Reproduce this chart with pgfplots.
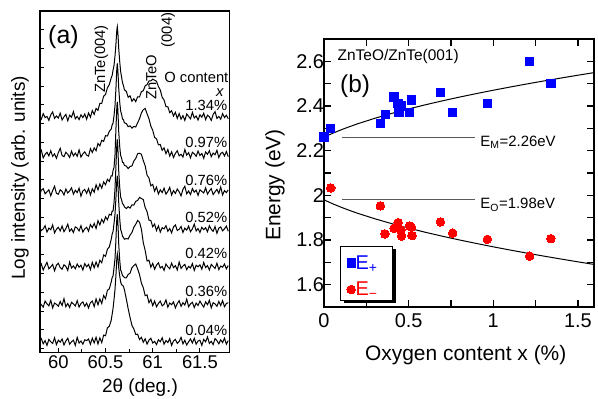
\documentclass[border=0pt]{standalone}
\usepackage{fontspec}
\setmainfont{Liberation Sans}
\usepackage{pgfplots}
\usepackage{pgfplotstable}
\pgfplotsset{compat=1.18}

% XRD traces: height (px units) above each trace's own baseline
\pgfplotstableread{
x c1 c2 c3 c4 c5 c6 c7
59.80 1.2 0.8 -3.6 2.4 -1.2 2.0 0.4
59.82 -2.4 4.0 1.6 -1.2 2.8 -0.4 3.2
59.84 3.2 -3.6 3.2 0.4 -3.2 -2.8 -2.0
59.86 -0.8 0.0 -2.0 3.6 0.8 3.2 1.2
59.88 0.4 2.0 0.0 -2.8 4.4 0.4 -3.6
59.90 -3.6 -1.6 2.0 1.2 -2.0 -1.6 2.4
59.92 2.0 3.6 -4.0 -0.4 0.0 4.0 0.0
59.94 4.8 -2.0 1.2 4.4 2.4 -3.6 -1.6
59.96 -1.6 0.4 5.6 -3.6 -4.0 1.2 4.0
59.98 0.8 -4.0 -1.6 0.0 1.6 0.0 -2.8
60.00 -1.2 1.6 -2.4 2.0 3.6 -2.0 1.6
60.02 3.6 6.0 2.0 -1.6 -0.8 2.8 -0.4
60.04 -3.2 -1.2 0.4 3.2 -2.4 -1.2 2.8
60.06 0.0 -2.4 -3.2 -2.4 2.0 5.6 -3.2
60.08 2.4 2.0 2.8 0.8 0.4 -2.4 0.8
60.10 -4.0 0.0 -1.2 5.2 -3.6 0.8 3.6
60.12 1.6 -3.2 0.8 -2.0 4.8 -3.2 -2.4
60.14 -0.4 3.2 4.0 0.4 -1.2 2.0 0.0
60.16 5.2 -1.6 -2.4 -3.2 0.8 0.4 1.6
60.18 -2.0 1.2 1.6 2.4 -2.0 -1.6 -3.6
60.20 0.4 -2.0 -0.8 1.2 2.8 3.6 4.4
60.22 -2.8 4.4 3.6 -1.6 -0.4 -2.8 -1.2
60.24 2.0 -2.8 -4.4 3.6 1.6 0.8 0.8
60.26 -0.8 0.4 0.8 -2.8 -3.2 2.4 -2.4
60.28 2.8 2.4 2.4 0.4 3.2 -2.0 2.0
60.30 -2.4 -0.8 -1.6 2.0 0.0 1.2 1.2
60.32 3.8 -1.8 3.2 -1.9 2.4 -3.6 2.8
60.34 -0.4 5.6 -3.1 4.7 -2.8 1.6 -2.4
60.36 6.2 1.8 3.0 1.7 4.5 3.2 3.6
60.38 2.4 6.4 -0.4 5.8 -1.0 -2.3 -1.2
60.40 8.4 3.6 7.0 0.8 4.8 5.4 4.5
60.42 6.5 10.8 2.0 8.6 -0.2 -0.5 -2.2
60.44 13.5 8.4 7.8 4.4 6.5 5.4 3.9
60.46 13.4 14.0 3.6 9.9 4.1 0.8 -0.8
60.48 20.6 12.9 9.9 6.6 11.8 8.8 6.7
60.50 22.3 18.6 7.0 12.4 10.5 5.6 6.0
60.52 29.0 18.3 12.5 9.5 17.6 14.0 14.0
60.54 32.2 23.0 10.4 15.0 19.8 15.4 15.5
60.56 38.8 25.2 16.0 14.2 27.3 22.2 21.4
60.57 41.3 29.4 15.8 18.1 32.6 26.7 27.5
60.58 46.9 31.3 21.4 18.4 35.4 28.4 33.6
60.59 51.4 38.6 24.5 26.6 43.4 36.5 42.3
60.60 60.5 48.0 36.0 40.0 52.0 45.0 52.0
60.61 72 65 62 62 68 64 66
60.615 80 76 74 74 78 76 75
60.62 87 86 85 85 87 86 84
60.625 90 91 90 90 91 90 88
60.63 85 85 83 83 85 84 85
60.635 77 76 72 71 75 73 80
60.64 68 66 60 58 64 60 74
60.65 55.6 52.5 45.5 42.4 48.3 44.5 66
60.66 45.3 43.4 36.2 32.3 37.4 34.4 60
60.67 39.9 40.0 33.8 29.6 34.5 32.0 57
60.68 34.0 35.3 29.4 25.5 30.5 28.5 56.5
60.69 31.2 34.6 29.1 24.9 29.4 28.0 55.5
60.70 27.0 31.5 26.4 22.4 27.6 26.6 52
60.72 25.5 30.8 25.7 20.8 28.2 26.4 43
60.74 19.5 27.6 23.2 22.6 27.8 29.8 33
60.76 21.0 28.4 25.4 21.2 31.8 31.2 24.2
60.78 15.5 26.2 25.8 24.4 34.3 36.6 16.4
60.80 18.1 27.9 30.8 24.2 39.5 38.7 12.8
60.82 15.2 27.3 33.3 28.0 42.6 40.3 7.4
60.84 20.0 31.6 38.0 28.8 46.3 35.4 7.6
60.86 19.8 35.5 38.6 31.9 44.6 29.8 2.2
60.88 25.2 41.4 37.5 30.8 37.6 21.2 4.5
60.90 26.0 44.6 31.2 29.7 24.0 16.6 -0.5
60.92 31.0 45.8 26.0 21.8 16.4 8.6 3.0
60.94 32.2 40.5 16.6 17.6 5.8 9.4 -2.3
60.96 35.8 35.6 13.8 9.2 6.6 1.6 1.6
60.98 35.9 28.2 6.0 8.8 -0.4 4.8 3.6
61.00 37.6 24.0 7.4 2.5 3.4 -1.4 -1.2
61.02 36.6 16.8 0.6 5.3 -2.4 3.3 0.4
61.04 35.5 15.6 4.8 -1.3 1.6 -2.4 -2.8
61.06 30.3 9.4 -2.2 3.4 4.0 0.8 2.0
61.08 26.8 9.8 2.0 -2.8 -1.2 3.2 0.0
61.10 19.5 4.0 -0.8 1.6 0.4 -1.6 4.0
61.12 16.8 6.4 3.6 0.4 -3.6 0.0 -2.4
61.14 10.2 0.6 -2.4 3.6 2.8 4.4 1.2
61.16 10.0 4.8 0.4 -2.0 0.0 -2.8 -0.8
61.18 4.2 -1.8 4.4 0.8 -2.0 1.2 3.2
61.20 6.0 2.4 -3.2 -3.6 3.6 -0.4 -3.6
61.22 0.8 -3.2 1.2 2.4 -0.8 2.4 0.8
61.24 4.5 0.8 -1.6 4.4 1.2 -3.6 2.4
61.26 -1.6 3.6 2.8 -1.2 -3.2 0.8 -1.6
61.28 3.2 -1.6 0.0 0.0 4.8 3.6 0.4
61.30 -2.4 0.0 -4.0 2.8 -1.6 -2.0 4.4
61.32 1.2 -2.8 2.4 -3.2 0.8 1.6 -2.0
61.34 -3.6 4.8 5.6 1.2 2.4 -0.8 1.6
61.36 2.8 -0.8 -2.0 -0.8 -2.8 5.2 -3.2
61.38 0.4 1.6 0.8 3.2 0.4 -2.4 0.0
61.40 -2.0 -3.6 -2.8 -2.4 -1.2 0.4 2.8
61.42 4.4 2.0 3.2 0.4 3.2 2.0 -1.2
61.44 -1.2 0.4 -0.4 5.2 -3.6 -3.2 3.6
61.46 0.8 -2.0 1.6 -1.6 1.6 1.2 -2.4
61.48 -3.2 3.2 -3.6 0.8 0.0 -1.2 0.8
61.50 2.0 -1.2 2.0 -3.2 2.0 3.2 1.6
61.52 -0.4 0.8 0.4 2.0 -2.4 0.0 -3.6
61.54 3.6 -4.0 -1.2 -0.4 4.4 -2.8 2.4
61.56 -2.8 2.4 4.0 1.6 -0.8 2.4 0.0
61.58 1.6 0.0 -2.4 -2.4 1.2 -0.4 4.8
61.60 0.0 3.6 0.8 3.6 -3.2 4.0 -1.6
61.62 -3.6 -2.4 3.2 0.0 2.4 -3.6 0.4
61.64 2.4 1.2 -2.8 -2.0 0.4 1.6 -2.8
61.66 5.2 -0.4 0.0 2.8 -1.6 0.4 3.2
61.68 -1.6 4.0 2.4 -4.0 3.6 -2.0 1.2
61.70 0.4 -3.2 -1.6 1.2 -2.8 2.8 -2.0
61.72 -2.4 0.8 4.8 2.4 0.8 -1.2 2.0
61.74 3.2 2.0 -3.2 -1.6 -0.4 3.6 -0.8
61.76 -0.8 -1.6 1.2 0.4 2.8 -2.4 3.6
61.78 1.6 2.8 -0.8 3.2 -2.0 0.8 -2.4
61.80 -2.0 -2.4 2.0 -2.0 1.2 1.6 1.2
}\xrd

\begin{document}
\begin{tikzpicture}
\useasboundingbox (0,0) rectangle (598bp,399bp);
% ---------------- panel (a)
\begin{axis}[
  at={(40bp,46.7bp)}, anchor=south west, scale only axis,
  width=189.3bp, height=341.3bp,
  xmin=59.806, xmax=61.811, ymin=0, ymax=341.3,
  axis line style={line width=1.2bp},
  tick style={line width=0.9bp, black},
  tick align=inside, xtick pos=bottom, ytick pos=left,
  major tick length=4bp, minor tick length=3bp,
  xtick={60,60.5,61,61.5}, xticklabels={60,60.5,61,61.5},
  minor x tick num=1,
  ytick={3.6,22.35,...,340}, yticklabels={},
  /pgf/number format/assume math mode=true,
  xticklabel style={font=\fontsize{18.5}{20}\selectfont},
  xlabel={2θ (deg.)},
  xlabel style={at={(axis description cs:0.528,-0.1046)}, anchor=center, font=\fontsize{19}{21}\selectfont},
  ylabel={Log intensity (arb. units)},
  ylabel style={at={(axis description cs:-0.106,0.511)}, anchor=center, font=\fontsize{19}{21}\selectfont},
]
\addplot[black, line width=1.0bp] table[x=x, y expr=\thisrow{c1}+235.5] {\xrd};
\addplot[black, line width=1.0bp] table[x=x, y expr=\thisrow{c2}+198] {\xrd};
\addplot[black, line width=1.0bp] table[x=x, y expr=\thisrow{c3}+160.5] {\xrd};
\addplot[black, line width=1.0bp] table[x=x, y expr=\thisrow{c4}+123] {\xrd};
\addplot[black, line width=1.0bp] table[x=x, y expr=\thisrow{c5}+85.5] {\xrd};
\addplot[black, line width=1.0bp] table[x=x, y expr=\thisrow{c6}+48] {\xrd};
\addplot[black, line width=1.0bp] table[x=x, y expr=\thisrow{c7}+10.5] {\xrd};
\node[anchor=base west, inner sep=0, font=\fontsize{25}{27}\selectfont] at (axis cs:59.891,309) {(a)};
\node[rotate=90, inner sep=0, font=\fontsize{14.8}{16}\selectfont] at (axis cs:60.455,293.3) {ZnTe(004)};
\node[rotate=90, inner sep=0, font=\fontsize{14.8}{16}\selectfont] at (axis cs:60.985,275.3) {ZnTeO};
\node[rotate=90, inner sep=0, font=\fontsize{14.8}{16}\selectfont] at (axis cs:61.162,322.3) {(004)};
\node[inner sep=0, font=\fontsize{14.8}{16}\selectfont] at (axis cs:61.462,275) {O content};
\node[inner sep=0, font=\fontsize{14.8}{16}\selectfont\itshape] at (axis cs:61.71,259.5) {x};
\begin{scope}[every node/.style={anchor=east, inner sep=0, font=\fontsize{14.8}{16}\selectfont}]
\node at (axis cs:61.79,247.3) {1.34\%};
\node at (axis cs:61.79,209.6) {0.97\%};
\node at (axis cs:61.79,172.3) {0.76\%};
\node at (axis cs:61.79,134.6) {0.52\%};
\node at (axis cs:61.79,99) {0.42\%};
\node at (axis cs:61.79,60.6) {0.36\%};
\node at (axis cs:61.79,22.3) {0.04\%};
\end{scope}
\end{axis}
% ---------------- panel (b)
\begin{axis}[
  at={(324bp,92bp)}, anchor=south west, scale only axis,
  width=270bp, height=268bp,
  xmin=0, xmax=1.595, ymin=1.5, ymax=2.70,
  axis line style={line width=1.5bp},
  tick style={line width=1.2bp, black},
  tick align=inside,
  major tick length=7bp, minor tick length=7bp,
  xtick={0,0.5,1,1.5}, minor x tick num=1,
  ytick={1.6,1.8,2,2.2,2.4,2.6}, minor y tick num=1,
  /pgf/number format/assume math mode=true,
  xticklabel style={font=\fontsize{20}{22}\selectfont, yshift=-3bp},
  yticklabel style={font=\fontsize{20}{22}\selectfont, xshift=3.5bp},
  xlabel={Oxygen content x (\%)},
  xlabel style={at={(axis description cs:0.525,-0.179)}, anchor=center, font=\fontsize{21}{23}\selectfont},
  ylabel={Energy (eV)},
  ylabel style={at={(axis description cs:-0.1815,0.455)}, anchor=center, font=\fontsize{21}{23}\selectfont},
  legend style={at={(rel axis cs:0.0619,0.2149)}, anchor=north west,
    draw=none, fill=none, inner sep=0pt, row sep=0pt,
    nodes={inner sep=0pt},
    font=\fontsize{20}{22}\selectfont,
    /tikz/every even column/.append style={column sep=9.7bp}},
  legend cell align=left,
  legend image code/.code={\path[draw=none, fill=none] (0bp,-13.3bp) rectangle (14.3bp,13.3bp); \draw[#1] plot coordinates {(10.3bp,0bp)};},
]
\addplot[black!65, line width=0.8bp, forget plot] coordinates {(0.105,2.26) (0.893,2.26)};
\addplot[black!65, line width=0.8bp, forget plot] coordinates {(0.105,1.98) (0.893,1.98)};
\addplot[black, line width=1bp, forget plot] coordinates {
(0,2.26) (0.025,2.2689) (0.05,2.2774) (0.1,2.2930) (0.15,2.3073) (0.2,2.3207) (0.3,2.3449) (0.4,2.3668)
(0.5,2.3869) (0.6,2.4056) (0.7,2.4232) (0.8,2.4398) (0.9,2.4555) (1.0,2.4706) (1.1,2.4850) (1.2,2.4989)
(1.3,2.5123) (1.4,2.5252) (1.5,2.5378) (1.595,2.5494)};
\addplot[black, line width=1bp, forget plot] coordinates {
(0,1.98) (0.025,1.9711) (0.05,1.9626) (0.1,1.9470) (0.15,1.9327) (0.2,1.9193) (0.3,1.8951) (0.4,1.8732)
(0.5,1.8531) (0.6,1.8344) (0.7,1.8168) (0.8,1.8002) (0.9,1.7845) (1.0,1.7694) (1.1,1.7550) (1.2,1.7411)
(1.3,1.7277) (1.4,1.7148) (1.5,1.7022) (1.595,1.6906)};
% legend frame with its drop shadow
\fill[black] (rel axis cs:0.0749,0.0131) rectangle (rel axis cs:0.2649,0.2146);
\draw[fill=white, line width=0.8bp] (rel axis cs:0.0619,0.0261) rectangle (rel axis cs:0.2519,0.2276);
\addplot[only marks, mark=square*, mark size=4.2bp, blue, mark options={fill=blue, draw=blue, line width=0bp}] coordinates {
(0,2.262) (0.04,2.30) (0.333,2.321) (0.363,2.362) (0.414,2.44) (0.438,2.41) (0.442,2.372) (0.458,2.40)
(0.505,2.37) (0.517,2.426) (0.688,2.46) (0.76,2.37) (0.965,2.41) (1.215,2.60) (1.34,2.50)};
\addlegendentry{\textcolor{blue}{E\textsubscript{+}}}
\addplot[only marks, mark=*, mark size=4.3bp, red, mark options={fill=red, draw=red, line width=0bp}] coordinates {
(0.04,2.033) (0.333,1.953) (0.36,1.827) (0.414,1.853) (0.438,1.878) (0.454,1.845) (0.458,1.818)
(0.505,1.863) (0.517,1.857) (0.52,1.82) (0.688,1.881) (0.76,1.831) (0.965,1.803) (1.215,1.728) (1.34,1.806)};
\addlegendentry{\textcolor{red}{E\textsubscript{−}}}
\node[anchor=base west, inner sep=0, font=\fontsize{15.5}{17}\selectfont] at (rel axis cs:0.05,0.918) {ZnTeO/ZnTe(001)};
\node[anchor=base west, inner sep=0, font=\fontsize{24.5}{26}\selectfont] at (rel axis cs:0.059,0.799) {(b)};
\node[anchor=base west, inner sep=0, font=\fontsize{15}{17}\selectfont] at (axis cs:0.923,2.219) {E\textsubscript{M}=2.26eV};
\node[anchor=base west, inner sep=0, font=\fontsize{15}{17}\selectfont] at (axis cs:0.923,1.940) {E\textsubscript{O}=1.98eV};
\end{axis}
\end{tikzpicture}
\end{document}
